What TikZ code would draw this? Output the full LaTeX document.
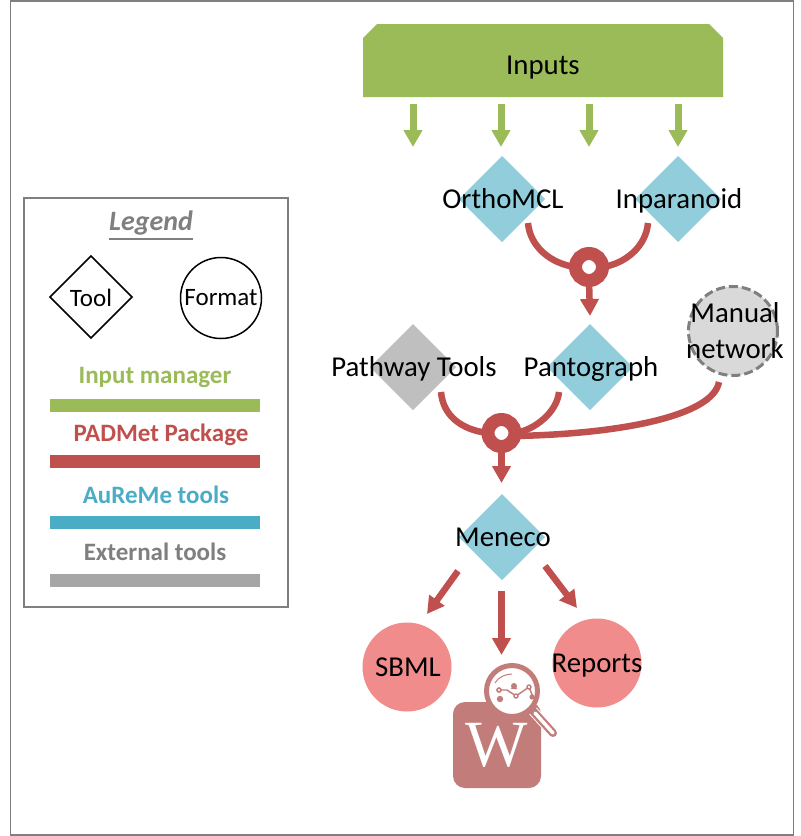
\documentclass[tikz,border=0pt]{standalone}
\usepackage{fontspec}
\setmainfont{Carlito}
\newfontfamily\wikifont{Liberation Serif}
\usetikzlibrary{shapes.geometric,shapes.misc,arrows.meta}
\definecolor{cgreen}{HTML}{9BBB59}
\definecolor{cred}{HTML}{C0504D}
\definecolor{cblue}{HTML}{92CDDC}
\definecolor{cteal}{HTML}{4BACC6}
\definecolor{cgray}{HTML}{BFBFBF}
\definecolor{cpink}{HTML}{F08C8C}
\definecolor{cwiki}{HTML}{C27C7A}
\definecolor{cframe}{HTML}{7F7F7F}
\newcommand{\fs}[1]{\fontsize{#1}{#1}\selectfont}
\tikzset{
  every node/.style={inner sep=0pt,outer sep=0pt},
  tool/.style={diamond,minimum width=86pt,minimum height=86pt,fill=cblue},
  ext/.style={tool,fill=cgray},
  fmt/.style={circle,minimum size=89pt,fill=cpink},
  big/.style={font=\fs{28.8},text=black,text height=18pt,text depth=0pt},
  lab/.style={big,xshift=1pt},
  ring/.style={circle,minimum size=27pt,draw=cred,line width=13pt,fill=white},
  inarrow/.style={draw=cgreen,line width=7pt,-{Triangle[width=18pt,length=17pt]}},
  outarrow/.style={draw=cred,line width=6.5pt,-{Triangle[width=18pt,length=17pt]}},
  merge/.style={draw=cred,line width=6.5pt},
  legendtext/.style={font=\fs{25}\bfseries},
  bar/.style={minimum width=210pt,minimum height=13pt},
}
\begin{document}
\begin{tikzpicture}[x=1pt,y=-1pt]
\useasboundingbox (0,0) rectangle (801,836);
\fill[white] (0,0) rectangle (801,836);
\draw[cframe,line width=1.5pt] (10.5,1) rectangle (793.5,835);
\draw[cframe,line width=1.5pt] (24,198) rectangle (288,607);
% Legend
\node[text=cframe,font=\fs{28}\bfseries\itshape] (legendtitle) at (151,223) {Legend};
\draw[cframe,line width=1.8pt] ([yshift=-4pt]legendtitle.south west) -- ([yshift=-4pt]legendtitle.south east);
\node[diamond,draw=black,line width=1.5pt,minimum width=82pt,minimum height=82pt] (ltool) at (91,297) {};
\node[font=\fs{25}] (ltooltext) at (91,298) {Tool};
\node[circle,draw=black,line width=1.5pt,minimum size=81pt] (lfmt) at (221,298) {};
\node[font=\fs{25}] (lfmttext) at (221,298) {Format};
\node[legendtext,text=cgreen] (l1) at (155,378) {Input manager};
\node[bar,fill=cgreen] (b1) at (155,405.5) {};
\node[legendtext,text=cred] (l2) at (161,435) {PADMet Package};
\node[bar,fill=cred] (b2) at (155,461.5) {};
\node[legendtext,text=cteal] (l3) at (156,495) {AuReMe tools};
\node[bar,fill=cteal] (b3) at (155,522.5) {};
\node[legendtext,text=cframe] (l4) at (155,552) {External tools};
\node[bar,fill=black!35] (b4) at (155,580.5) {};
% Inputs
\node[chamfered rectangle,chamfered rectangle corners={north west,north east},chamfered rectangle xsep=7pt,chamfered rectangle ysep=7pt,fill=cgreen,minimum width=360pt,minimum height=73pt,big,text height=27pt] (inputs) at (543,60.5) {Inputs};
\coordinate (a1s) at (413,104); \coordinate (a1e) at (413,147);
\coordinate (a2s) at (501,104); \coordinate (a2e) at (501,147);
\coordinate (a3s) at (589,104); \coordinate (a3e) at (589,147);
\coordinate (a4s) at (678,104); \coordinate (a4e) at (678,147);
\draw[inarrow] (a1s) -- (a1e);
\draw[inarrow] (a2s) -- (a2e);
\draw[inarrow] (a3s) -- (a3e);
\draw[inarrow] (a4s) -- (a4e);
% Tools
\node[tool,label={[lab]center:OrthoMCL}] (ortho) at (502,199) {};
\node[tool,label={[lab]center:Inparanoid}] (inpara) at (678,199) {};
\node[ext,label={[lab]center:Pathway Tools}] (pathway) at (413,367) {};
\node[tool,label={[lab]center:Pantograph}] (panto) at (590,367) {};
\node[tool,label={[lab]center:Meneco}] (meneco) at (502,537) {};
\node[circle,minimum size=89pt,fill=black!15,draw=cframe,line width=3pt,dash pattern=on 9pt off 4pt] (manual) at (733,331) {};
\node[font=\fs{28.8},align=center] (manualtext) at (735,331) {Manual\\[7pt]network};
\node[ring] (ringA) at (589,267) {};
\node[ring] (ringB) at (501.5,433) {};
% Merges
\draw[merge] ([shift={(26,24)}]ortho.center) .. controls +(2,24) and +(-24,-3) .. (ringA.west);
\draw[merge] ([shift={(-30,24)}]inpara.center) .. controls +(-2,24) and +(22,-3) .. (ringA.east);
\draw[merge] ([shift={(28,25)}]pathway.center) .. controls +(2,24) and +(-26,-3) .. (ringB.west);
\draw[merge] ([shift={(-31,25)}]panto.center) .. controls +(-2,20) and +(20,-3) .. (ringB.east);
\draw[merge] ([shift={(-14,51)}]manual.center) .. controls +(-6,34) and +(105,-2) .. ([yshift=-3pt]ringB.east);
\draw[outarrow] (ringA.south) -- ([yshift=8pt]panto.north);
\draw[outarrow] (ringB.south) -- ([yshift=11pt,xshift=-0.5pt]meneco.north);
% Outputs
\node[fmt,label={[lab]center:SBML}] (sbml) at (407,667) {};
\node[fmt,label={[big]center:Reports}] (reports) at (597,663) {};
\node[fill=cwiki,rounded corners=12pt,minimum width=88pt,minimum height=86pt] (wiki) at (497,745) {};
\node[text=white,font=\fs{66}\wikifont] (wikitext) at (497,745) {W};
\draw[white,line width=10pt] (533,711) -- (553,733);
\draw[cwiki,line width=8pt,line cap=round] (533,711) -- (553,733);
\draw[white,line width=3.5pt,line cap=round] (535,713) -- (553,733);
\node[circle,minimum size=51pt,draw=cwiki,line width=5pt,fill=white] (lens) at (512,691) {};
\draw[cwiki,line width=1pt] (495,683) .. controls (498,677) and (506,674) .. (512,674);
\fill[cwiki] (500,699) circle (3.2pt);
\fill[cwiki] (514,683) -- (517,689) -- (511,689) -- cycle;
\fill[cwiki] (514,686) circle (3pt);
\draw[cwiki,line width=1.6pt,fill=white] (499,690) circle (2pt);
\draw[cwiki,line width=1.4pt] (501,690) -- (507,690) -- (516,696) -- (529,687) -- (533,697);
\fill[cwiki] (532,697) circle (2.6pt);
\draw[cwiki,line width=1.4pt,fill=white] (516,696) circle (2pt);
\draw[cwiki,line width=1.4pt,fill=white] (529,687) circle (2pt);
\draw[outarrow] ([shift={(-44,34)}]meneco.center) -- ([shift={(20,-53)}]sbml.center);
\draw[outarrow] ([yshift=-11pt,xshift=-0.5pt]meneco.south) -- ([yshift=133pt,xshift=4.5pt]wiki.south);
\draw[outarrow] ([shift={(43,29)}]meneco.center) -- ([shift={(-20,-55)}]reports.center);
\end{tikzpicture}
\end{document}
